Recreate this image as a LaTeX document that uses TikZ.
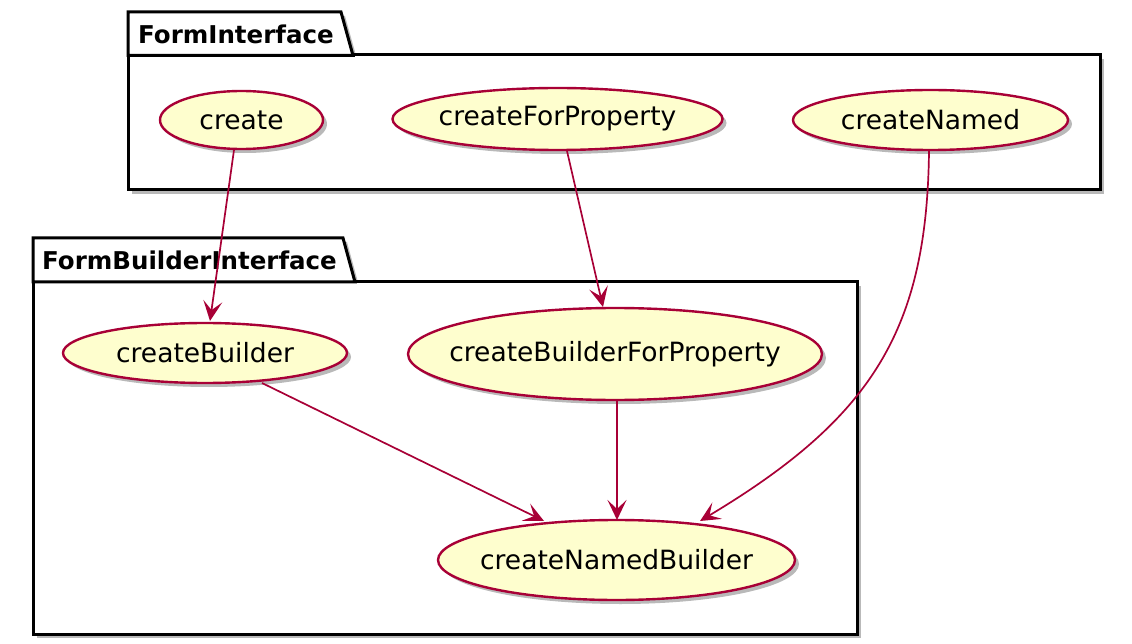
\documentclass[tikz,border=0pt]{standalone}
\usepackage{fontspec}
\setmainfont{DejaVu Sans}
\usetikzlibrary{arrows.meta,shadows,shapes.geometric}
\definecolor{umlred}{HTML}{A80036}
\definecolor{umlfill}{HTML}{FEFECE}
\tikzset{
  uc/.style={ellipse, draw=umlred, fill=umlfill, line width=2.4pt, inner xsep=-60pt, inner ysep=0pt,
    font=\fontsize{26.5}{30}\selectfont,
    drop shadow={shadow xshift=4pt, shadow yshift=-4pt, fill=black!50, opacity=0.55}},
  pkgbody/.style={draw=black, fill=white, line width=3pt, inner sep=0pt,
    drop shadow={shadow xshift=4pt, shadow yshift=-4pt, fill=black!50, opacity=0.55}},
  pkgtitle/.style={font=\bfseries\fontsize{24.5}{28}\selectfont, anchor=west, inner sep=0pt},
  rel/.style={draw=umlred, line width=1.7pt, -{Stealth[length=20pt,width=19pt,inset=9pt]}}
}
\begin{document}
\begin{tikzpicture}[x=1pt,y=-1pt]
\useasboundingbox (0,0) rectangle (1132,644);
% FormInterface package
\fill[black!50, opacity=0.55] (132,16) -- (345,16) -- (357,59) -- (128,59) -- cycle;
\node[pkgbody, minimum width=972pt, minimum height=135pt] (fib) at (614,122.5) {};
\draw[line width=3pt, fill=white, line join=miter] (128,55.5) -- (128,12) -- (341,12) -- (353,55.5) -- cycle;
\node[pkgtitle] (fit) at (138,34) {FormInterface};
% FormBuilderInterface package
\fill[black!50, opacity=0.55] (37,242) -- (347,242) -- (359,286) -- (37,286) -- cycle;
\node[pkgbody, minimum width=824pt, minimum height=352pt] (fbb) at (445,458) {};
\draw[line width=3pt, fill=white, line join=miter] (33,282) -- (33,238) -- (343,238) -- (355,282) -- cycle;
\node[pkgtitle] (fbt) at (42,260) {FormBuilderInterface};
% use cases
\node[uc, minimum width=163pt, minimum height=58pt] (create) at (241.5,120) {create};
\node[uc, minimum width=330pt, minimum height=62pt] (cfp) at (557.5,119) {createForProperty};
\node[uc, minimum width=275pt, minimum height=60pt] (cn) at (930.5,120) {createNamed};
\node[uc, minimum width=284pt, minimum height=60pt] (cb) at (205,353) {createBuilder};
\node[uc, minimum width=414pt, minimum height=92pt] (cbfp) at (615,354) {createBuilderForProperty};
\node[uc, minimum width=357pt, minimum height=80pt] (cnb) at (616.5,560) {createNamedBuilder};
% relations
\coordinate (a1) at (234,150);
\coordinate (a2) at (210,321);
\draw[rel] (a1) -- (a2);
\coordinate (b1) at (567,151);
\coordinate (b2) at (603,307);
\draw[rel] (b1) -- (b2);
\coordinate (c1) at (929,151);
\coordinate (c2) at (700,521);
\draw[rel] (c1) .. controls (927,330) and (872,418) .. (c2);
\coordinate (d1) at (262,383);
\coordinate (d2) at (544,521);
\draw[rel] (d1) -- (d2);
\coordinate (e1) at (617,401);
\coordinate (e2) at (617,520);
\draw[rel] (e1) -- (e2);
\end{tikzpicture}
\end{document}
